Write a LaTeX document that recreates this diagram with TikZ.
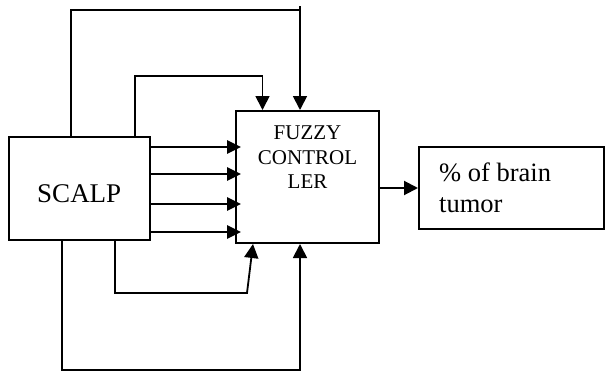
\documentclass[tikz,border=0pt]{standalone}
\usepackage{fontspec}
\setmainfont{Liberation Serif}
\usetikzlibrary{arrows.meta}

\begin{document}
\begin{tikzpicture}[x=1pt,y=-1pt,
  box/.style={draw,line width=2pt,inner sep=0pt},
  link/.style={line width=1.8pt},
  feed/.style={line width=1.8pt,-{Triangle[length=14pt,width=14pt]}},
  inp/.style={line width=2.6pt,-{Triangle[length=14pt,width=13pt]},shorten >=-6pt}]
  \useasboundingbox (0,0) rectangle (605,372);

  % the three blocks
  \node[box,minimum width=141.5pt,minimum height=103pt] (scalp) at (79.25,188.5) {};
  \node[box,minimum width=143pt,minimum height=132pt] (fuzzy) at (307.5,177) {};
  \node[box,minimum width=185pt,minimum height=82pt] (output) at (511.5,188) {};

  \node[inner sep=0pt,font=\fontsize{27}{31}\selectfont] (scalptxt) at ([yshift=-5.5pt]scalp.center) {SCALP};
  \node[inner sep=0pt,anchor=north,align=center,font=\fontsize{21}{24.5}\selectfont]
    (fuzzytxt) at ([yshift=-16pt]fuzzy.north) {FUZZY\\CONTROL\\LER};
  \node[inner sep=0pt,anchor=north west,align=left,font=\fontsize{26.5}{31}\selectfont]
    (outtxt) at (439,163) {\% of brain\\tumor};

  % entry points on the controller
  \coordinate (top) at (300,6);
  \coordinate (inA) at ([xshift=-45pt]fuzzy.north);
  \coordinate (inC) at ([xshift=-54.5pt]fuzzy.south);
  \coordinate (inD) at ([xshift=-7.5pt]fuzzy.south);
  \coordinate (bendC) at (247,293);

  % feedback lines over the top
  \draw[link] ([xshift=63.5pt]scalp.north west) |- ([yshift=-4pt]top);
  \draw[feed] (top) -- (top |- fuzzy.north);
  \draw[feed] ([xshift=55.75pt]scalp.north) |- (inA |- 0,76) -- (inA);

  % direct inputs
  \foreach \y in {147,174,204,232}{% one arrow per input
    \draw[inp] (scalp.east |- 0,\y) -- (fuzzy.west |- 0,\y);}

  % feedback lines underneath
  \draw[feed] ([xshift=35.75pt]scalp.south) |- (bendC) -- (inC);
  \draw[feed] ([xshift=-17.25pt]scalp.south) |- (inD |- 0,370) -- (inD);

  % result
  \draw[feed,line width=2pt] (fuzzy.east |- output.west) -- (output.west);
\end{tikzpicture}
\end{document}
